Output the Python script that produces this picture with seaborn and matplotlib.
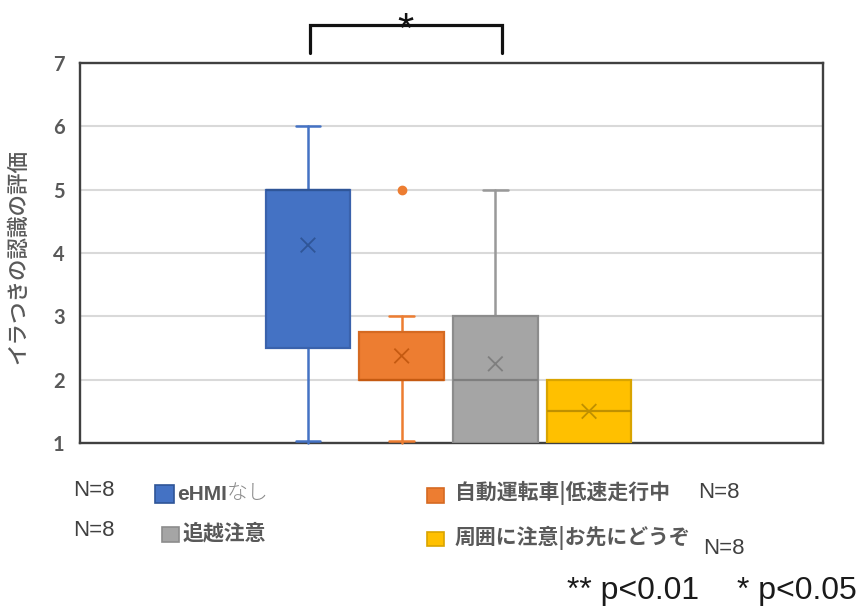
import numpy as np
import pandas as pd
import matplotlib
matplotlib.use("Agg")
import matplotlib.pyplot as plt
import matplotlib.transforms as mtransforms
from matplotlib.patches import Rectangle
import seaborn as sns

# ---- data (8 ratings per condition, reconstructed from the box statistics) ----
groups = ["eHMIなし", "自動運転車|低速走行中", "追越注意", "周囲に注意|お先にどうぞ"]
ratings_ehmi_none = [1, 2, 4, 5, 5, 5, 5, 6]
ratings_slow = [1, 2, 2, 2, 2, 2, 3, 5]
ratings_overtake = [1, 1, 1, 2, 2, 3, 3, 5]
ratings_after_you = [1, 1, 1, 1, 2, 2, 2, 2]
all_ratings = [ratings_ehmi_none, ratings_slow, ratings_overtake, ratings_after_you]
n_labels = ["N=8", "N=8", "N=8", "N=8"]
yticks = [1, 2, 3, 4, 5, 6, 7]
ylabel = "イラつきの認識の評価"
sig_text = "*"

fill_colors = ["#4472C4", "#ED7D31", "#A5A5A5", "#FFC000"]
edge_colors = ["#3A62AC", "#D56A22", "#8C8C8C", "#D9A400"]
dark_colors = ["#2F5597", "#C55A11", "#7F7F7F", "#BF9000"]

sns.set_theme(style="white")
plt.rcParams["font.family"] = ["Noto Sans CJK JP", "DejaVu Sans"]

fig = plt.figure(figsize=(8.61, 6.15), dpi=100)
ax = fig.add_axes([80 / 861, 1 - 443 / 615, 743 / 861, 380 / 615])

positions = [0.0, 1.0, 2.0, 3.0]

# Excel-style (exclusive) quartiles
stats = []
for vals in all_ratings:
    v = np.array(vals, dtype=float)
    q1, med, q3 = np.percentile(v, [25, 50, 75], method="weibull")
    iqr = q3 - q1
    lo_f, hi_f = q1 - 1.5 * iqr, q3 + 1.5 * iqr
    inside = v[(v >= lo_f) & (v <= hi_f)]
    stats.append(dict(med=med, q1=q1, q3=q3, whislo=inside.min(), whishi=inside.max(),
                      mean=v.mean(), fliers=v[(v < lo_f) | (v > hi_f)]))

art = ax.bxp(stats, positions=positions, widths=0.9, capwidths=0.26,
             patch_artist=True, showmeans=False, manage_ticks=False)
for i in range(4):
    b = art["boxes"][i]
    b.set_facecolor(fill_colors[i]); b.set_edgecolor(edge_colors[i]); b.set_linewidth(1.6)
    b.set_zorder(4)
    for w in art["whiskers"][2 * i:2 * i + 2] + art["caps"][2 * i:2 * i + 2]:
        w.set_color(fill_colors[i] if i != 2 else "#999999"); w.set_linewidth(1.8)
        w.set_zorder(3.5); w.set_clip_on(False)
    m = art["medians"][i]
    m.set_color(dark_colors[i]); m.set_linewidth(1.6); m.set_zorder(5)
    f = art["fliers"][i]
    f.set_marker("o"); f.set_markerfacecolor(fill_colors[i]); f.set_markeredgecolor(fill_colors[i])
    f.set_markersize(6)
# lower caps sit just above the frame line, as in the source
for i in range(4):
    cap = art["caps"][2 * i]
    yd = cap.get_ydata()
    cap.set_ydata([y + 0.03 if y <= 1 else y for y in yd])

means_df = pd.DataFrame({"pos": positions, "mean": [s["mean"] for s in stats], "group": groups})
sns.scatterplot(data=means_df, x="pos", y="mean", hue="group",
                palette=dict(zip(groups, dark_colors)), marker="x", s=110,
                linewidth=1.3, legend=False, ax=ax, zorder=6)

ax.set_xlim(-2.433, 5.497)
ax.set_ylim(1, 7)
ax.set_yticks(yticks)
ax.set_yticklabels([str(t) for t in yticks], family="Lato", fontweight="bold",
                   fontsize=14.5, color="#595959")
ax.set_xticks([])
ax.set_xlabel("")
ax.tick_params(axis="y", length=0, pad=11)
ax.grid(axis="y", color="#D9D9D9", linewidth=1.5)
ax.set_axisbelow(True)
for sp in ax.spines.values():
    sp.set_visible(True); sp.set_color("#404040"); sp.set_linewidth(1.7)

ax.set_ylabel(ylabel, fontsize=15.5, color="#595959", fontweight="medium")
ax.yaxis.set_label_coords(-0.068, 0.49)

# significance bracket
trans = mtransforms.blended_transform_factory(ax.transData, ax.transAxes)
bx0, bx1 = positions[0] + 0.02, positions[2] + 0.07
ax.plot([bx0, bx0, bx1, bx1], [1.026, 1.1, 1.1, 1.026], color="#111111", lw=2.3,
        transform=trans, clip_on=False, solid_joinstyle="miter")
ax.text((bx0 + bx1) / 2, 1.056, sig_text, transform=trans, ha="center", va="baseline",
        fontsize=30, family="Liberation Sans", color="#111111")

# legend (manual, as in the source layout)
def square(x0, y0, w, h, fc, ec):
    fig.patches.append(Rectangle((x0 / 861, 1 - (y0 + h) / 615), w / 861, h / 615,
                                 transform=fig.transFigure, facecolor=fc, edgecolor=ec,
                                 linewidth=1.2))

lab_kw = dict(fontsize=15, color="#595959", va="center", fontweight="bold")
n_kw = dict(fontsize=16, color="#404040", va="center", family="Liberation Sans")

square(155, 485, 19, 18, fill_colors[0], dark_colors[0])
t = fig.text(177 / 861, 1 - 495 / 615, groups[0][:4], family="Liberation Sans", fontsize=15,
             color="#595959", va="center", fontweight="bold")
ax.annotate(groups[0][4:], xy=(1, 0), xycoords=t, va="bottom", ha="left",
            fontsize=15, color="#8a8a8a", fontweight="light", annotation_clip=False)

square(427, 488, 17, 15, fill_colors[1], edge_colors[1])
fig.text(455 / 861, 1 - 493 / 615, groups[1], **lab_kw)

square(162, 527, 17, 15, fill_colors[2], edge_colors[2])
fig.text(183 / 861, 1 - 533 / 615, groups[2], **lab_kw)

square(427, 532, 17, 14, fill_colors[3], edge_colors[3])
fig.text(455 / 861, 1 - 538 / 615, groups[3], **lab_kw)

fig.text(73 / 861, 1 - 490 / 615, n_labels[0], **n_kw)
fig.text(698 / 861, 1 - 492 / 615, n_labels[1], **n_kw)
fig.text(73 / 861, 1 - 530 / 615, n_labels[2], **n_kw)
fig.text(703 / 861, 1 - 548 / 615, n_labels[3], **n_kw)

fig.text(567 / 861, 1 - 599 / 615, "** p<0.01", fontsize=23, family="Liberation Sans",
         color="#1a1a1a", va="baseline", ha="left")
fig.text(857 / 861, 1 - 599 / 615, "* p<0.05", fontsize=23, family="Liberation Sans",
         color="#1a1a1a", va="baseline", ha="right")

fig.savefig("out.png", dpi=100, facecolor="white")
